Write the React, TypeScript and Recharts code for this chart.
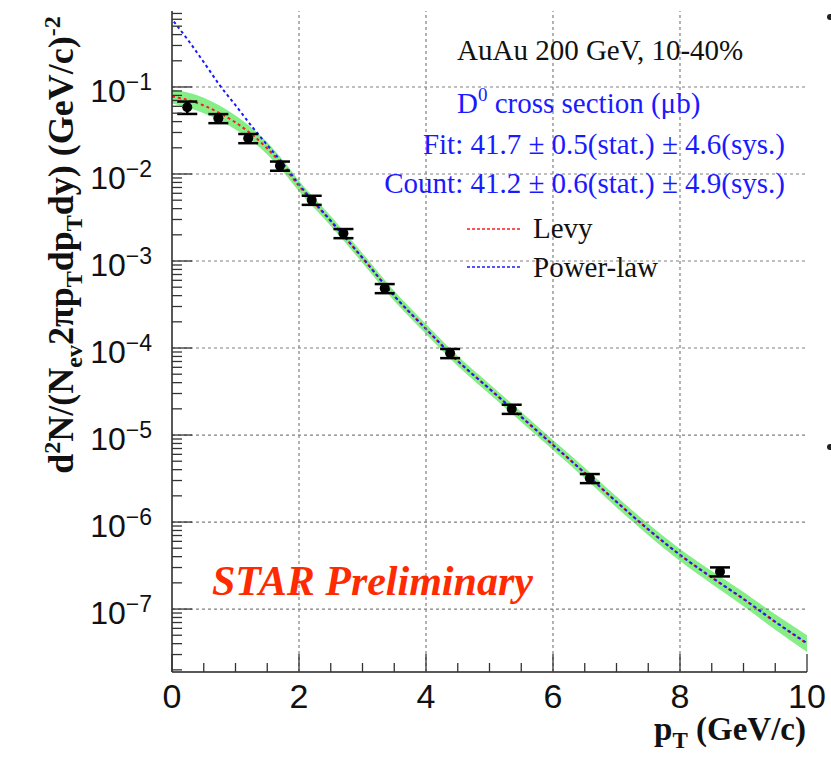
import { ComposedChart, XAxis, YAxis, Line, Area, Scatter, ErrorBar, ReferenceLine } from 'recharts'

// fit curves, sampled in pT (GeV/c)
const fitPt = [0, 0.25, 0.5, 0.75, 1, 1.25, 1.5, 1.75, 2, 2.5, 3, 3.5, 4, 4.5, 5, 5.5, 6, 6.5, 7, 7.5, 8, 8.5, 9, 9.5, 10]
const levy = [0.0778, 0.0709, 0.0613, 0.0502, 0.0391, 0.0288, 0.0196, 0.01236, 0.00728, 0.00288, 0.00108, 3.96e-4, 1.65e-4, 7.09e-5, 3.38e-5, 1.61e-5, 7.67e-6, 3.66e-6, 1.7e-6, 8.2e-7, 4.18e-7, 2.3e-7, 1.3e-7, 7.1e-8, 4.0e-8]
const powerLaw = [0.6, 0.348, 0.193, 0.105, 0.0617, 0.0358, 0.0215, 0.0131, 0.0076, 0.0029, 0.00109, 3.98e-4, 1.66e-4, 7.12e-5, 3.4e-5, 1.62e-5, 7.7e-6, 3.68e-6, 1.71e-6, 8.25e-7, 4.2e-7, 2.31e-7, 1.31e-7, 7.15e-8, 4.05e-8]
const bandLow = [0.0647, 0.0583, 0.0498, 0.0413, 0.0325, 0.0243, 0.0167, 0.01064, 0.00634, 0.00253, 9.47e-4, 3.47e-4, 1.45e-4, 6.22e-5, 2.96e-5, 1.41e-5, 6.72e-6, 3.18e-6, 1.47e-6, 7.05e-7, 3.56e-7, 1.94e-7, 1.08e-7, 5.79e-8, 3.21e-8]
const bandHigh = [0.0935, 0.0863, 0.0753, 0.0611, 0.047, 0.0343, 0.0231, 0.01436, 0.00836, 0.00329, 0.00123, 4.52e-4, 1.89e-4, 8.1e-5, 3.86e-5, 1.84e-5, 8.76e-6, 4.2e-6, 1.96e-6, 9.55e-7, 4.91e-7, 2.74e-7, 1.57e-7, 8.69e-8, 5.01e-8]

// measured D0 points
const pointPt = [0.24, 0.73, 1.2, 1.7, 2.2, 2.7, 3.35, 4.38, 5.35, 6.58, 8.63]
const pointYield = [0.0585, 0.0436, 0.0257, 0.0124, 0.00502, 0.00208, 4.85e-4, 8.7e-5, 1.99e-5, 3.18e-6, 2.69e-7]
const pointSys = [0.0095, 0.0052, 0.0031, 0.0015, 0.0006, 0.00025, 5.8e-5, 1.05e-5, 2.4e-6, 3.8e-7, 3.2e-8]

const xTicks = [0, 0.5, 1, 1.5, 2, 2.5, 3, 3.5, 4, 4.5, 5, 5.5, 6, 6.5, 7, 7.5, 8, 8.5, 9, 9.5, 10]
const xMajor = [0, 2, 4, 6, 8, 10]
const xGrid = [2, 4, 6, 8]
const yDecades = [1e-8, 1e-7, 1e-6, 1e-5, 1e-4, 1e-3, 1e-2, 1e-1]
const yGrid = [1e-7, 1e-6, 1e-5, 1e-4, 1e-3, 1e-2, 1e-1]
const yMinor = [1, 2, 3, 4, 5, 6, 7, 8, 9]
const yDomain = [1.89e-8, 0.747]

const yTicks = yDecades.flatMap((d) => yMinor.map((m) => +(m * d).toPrecision(3))).filter((v) => v >= yDomain[0] && v <= yDomain[1])

const fitData = fitPt.map((pT, i) => ({ pT, levy: levy[i], power: powerLaw[i], band: [bandLow[i], bandHigh[i]] }))
const points = pointPt.map((pT, i) => ({ pT, yield: pointYield[i], sys: pointSys[i] }))

// layout
const W = 831
const H = 758
const M = { top: 11, right: 24, left: 172, bottom: 86 }
const PH = H - M.top - M.bottom

const SANS = 'Liberation Sans, Arial, Helvetica, sans-serif'
const SERIF = 'Liberation Serif, Times New Roman, serif'
const TICK = '#333'
const GRID = '#808080'

const isDecade = (v: number) => Math.abs(Math.log10(v) - Math.round(Math.log10(v))) < 1e-6

const LeftTick = (props: any) => {
  const { x, y, payload } = props
  const v = payload.value
  const major = isDecade(v)
  const exp = Math.round(Math.log10(v))
  return (
    <g>
      <line x1={x} x2={x + (major ? 20 : 10)} y1={y} y2={y} stroke={TICK} strokeWidth={1.3} />
      {major && (
        <text x={x - 20} y={y + 15} textAnchor="end" fontFamily={SANS} fill="#111">
          <tspan fontSize={32}>10</tspan>
          <tspan fontSize={23} dy={-12}>{'\u2212' + Math.abs(exp)}</tspan>
        </text>
      )}
    </g>
  )
}

const RightTick = (props: any) => {
  const { x, y, payload } = props
  const major = isDecade(payload.value)
  return <line x1={x} x2={x - (major ? 20 : 10)} y1={y} y2={y} stroke={TICK} strokeWidth={1.3} />
}

const BottomTick = (props: any) => {
  const { x, y, payload } = props
  const major = xMajor.includes(payload.value)
  return (
    <g>
      {xGrid.includes(payload.value) && (
        <path d={`M${x},${y}v${-PH}`} stroke={GRID} strokeWidth={1.2} strokeDasharray="3 3" fill="none" />
      )}
      <line x1={x} x2={x} y1={y} y2={y - (major ? 18 : 9)} stroke={TICK} strokeWidth={1.3} />
      {major && (
        <text x={x} y={y + 36} textAnchor="middle" fontFamily={SANS} fontSize={34} fill="#111">
          {payload.value}
        </text>
      )}
    </g>
  )
}

const TopTick = (props: any) => {
  const { x, y, payload } = props
  const major = xMajor.includes(payload.value)
  return <line x1={x} x2={x} y1={y} y2={y + (major ? 13 : 7)} stroke={TICK} strokeWidth={1.3} />
}

const frame = { stroke: '#222', strokeWidth: 1.5 }

export default function App() {
  return (
    <div style={{ position: 'absolute', left: 0, top: 0, width: W, height: H, background: '#fff' }}>
      <ComposedChart width={W} height={H} margin={{ top: M.top, right: M.right, bottom: 0, left: 0 }}>
        <XAxis xAxisId="b" type="number" dataKey="pT" domain={[0, 10]} ticks={xTicks} interval={0}
          orientation="bottom" height={M.bottom} tickSize={0} tickMargin={0} tickLine={false} axisLine={frame}
          tick={<BottomTick />} allowDataOverflow />
        <XAxis xAxisId="t" type="number" dataKey="pT" domain={[0, 10]} ticks={xTicks} interval={0}
          orientation="top" height={0} tickSize={0} tickMargin={0} tickLine={false} axisLine={frame}
          tick={<TopTick />} allowDataOverflow />
        <YAxis yAxisId="l" type="number" scale="log" domain={yDomain} ticks={yTicks} interval={0}
          width={M.left} tickSize={0} tickMargin={0} tickLine={false} axisLine={frame}
          tick={<LeftTick />} allowDataOverflow />
        <YAxis yAxisId="r" orientation="right" type="number" scale="log" domain={yDomain} ticks={yTicks} interval={0}
          width={0} tickSize={0} tickMargin={0} tickLine={false} axisLine={frame}
          tick={<RightTick />} allowDataOverflow />

        {yGrid.map((v) => (
          <ReferenceLine key={v} xAxisId="b" yAxisId="l" y={v} stroke={GRID} strokeWidth={1.2}
            strokeDasharray="3 3" ifOverflow="visible" />
        ))}

        <Area xAxisId="b" yAxisId="l" data={fitData} dataKey="band" type="monotone" stroke="none"
          fill="#86ee86" fillOpacity={1} isAnimationActive={false} />
        <Line xAxisId="b" yAxisId="l" data={fitData} dataKey="levy" type="monotone" stroke="#ff1a1a"
          strokeWidth={2} strokeDasharray="3 3" dot={false} isAnimationActive={false} />
        <Line xAxisId="b" yAxisId="l" data={fitData} dataKey="power" type="monotone" stroke="#1a1aff"
          strokeWidth={2} strokeDasharray="3 3" strokeDashoffset={3} dot={false} isAnimationActive={false} />
        <Scatter xAxisId="b" yAxisId="l" data={points} dataKey="yield" isAnimationActive={false}
          shape={(p: any) => <circle cx={p.cx} cy={p.cy} r={5} fill="#000" />}>
          <ErrorBar dataKey="sys" direction="y" width={10} stroke="#000" strokeWidth={2.5} isAnimationActive={false} />
        </Scatter>
      </ComposedChart>

      <svg width={W} height={H} style={{ position: 'absolute', left: 0, top: 0, pointerEvents: 'none' }}>
        <text x={457} y={60} fontFamily={SERIF} fontSize={29} fill="#111">AuAu 200 GeV, 10-40%</text>
        <text x={457} y={113} fontFamily={SERIF} fontSize={29} fill="#1a1aff">
          D<tspan fontSize={19} dy={-12}>0</tspan><tspan dy={12}> cross section (μb)</tspan>
        </text>
        <text x={785} y={154} textAnchor="end" fontFamily={SERIF} fontSize={29} fill="#1a1aff">
          Fit: 41.7 ± 0.5(stat.) ± 4.6(sys.)
        </text>
        <text x={785} y={193} textAnchor="end" fontFamily={SERIF} fontSize={29} fill="#1a1aff">
          Count: 41.2 ± 0.6(stat.) ± 4.9(sys.)
        </text>
        <line x1={467} x2={522} y1={229} y2={229} stroke="#ff1a1a" strokeWidth={1.5} strokeDasharray="3 2" />
        <text x={533} y={238} fontFamily={SERIF} fontSize={29} fill="#111">Levy</text>
        <line x1={467} x2={522} y1={267} y2={267} stroke="#1a1aff" strokeWidth={1.5} strokeDasharray="3 2" />
        <text x={533} y={277} fontFamily={SERIF} fontSize={29} fill="#111">Power-law</text>

        <text x={212} y={595} fontFamily={SERIF} fontSize={42} fontWeight="bold" fontStyle="italic" fill="#ff2a00">
          STAR Preliminary
        </text>

        <text x={806} y={740} textAnchor="end" fontFamily={SERIF} fontSize={33} fontWeight="bold" fill="#111">
          p<tspan fontSize={23} dy={8}>T</tspan><tspan dy={-8}> (GeV/c)</tspan>
        </text>

        <text x={73} y={245} transform="rotate(-90 73 245)" textAnchor="middle" fontFamily={SERIF} fontSize={36}
          fontWeight="bold" fill="#111">
          d<tspan fontSize={24} dy={-13}>2</tspan>
          <tspan dy={13}>N/(N</tspan>
          <tspan fontSize={24} dy={9}>ev</tspan>
          <tspan dy={-9}>2πp</tspan>
          <tspan fontSize={24} dy={9}>T</tspan>
          <tspan dy={-9}>dp</tspan>
          <tspan fontSize={24} dy={9}>T</tspan>
          <tspan dy={-9}>dy) (GeV/c)</tspan>
          <tspan fontSize={24} dy={-13}>-2</tspan>
        </text>

        <circle cx={830} cy={17} r={3} fill="#222" />
        <circle cx={830} cy={447} r={3} fill="#222" />
      </svg>
    </div>
  )
}
